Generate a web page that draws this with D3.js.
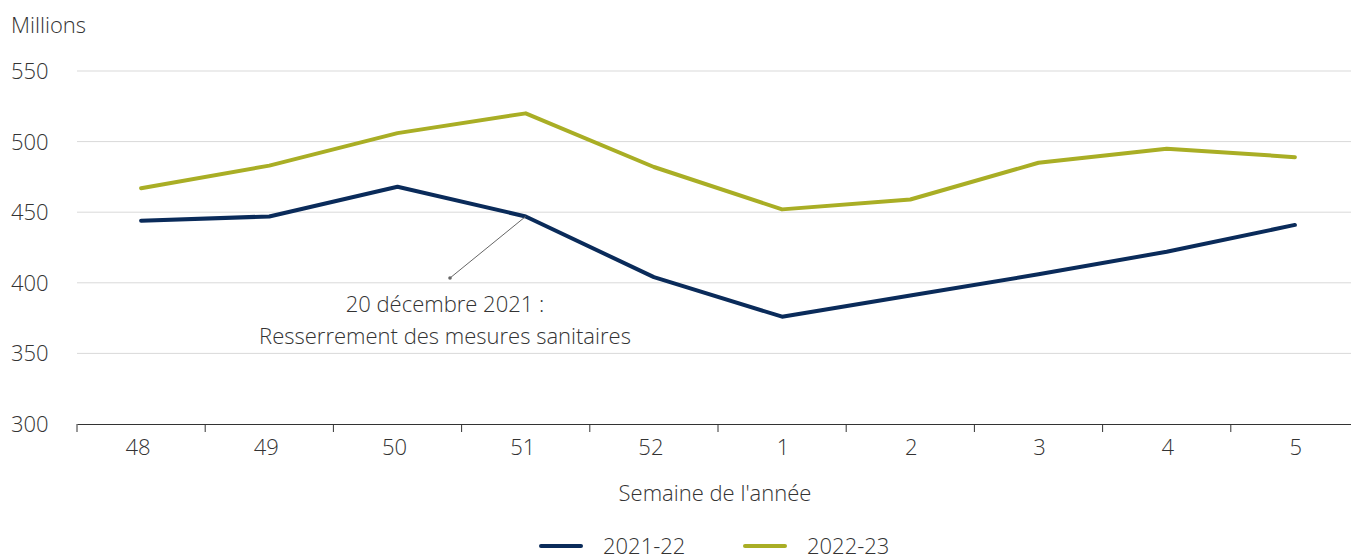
<!DOCTYPE html>
<html>
<head>
<meta charset="utf-8">
<script src="https://cdn.jsdelivr.net/npm/d3@7"></script>
<style>
  body { margin: 0; background: #fff; }
  svg text { font-family: "Open Sans", sans-serif; font-weight: 300; fill: #333; }
</style>
</head>
<body>
<svg width="1351" height="556"></svg>
<script>
// weeks and weekly values (millions)
const weeks = ["48", "49", "50", "51", "52", "1", "2", "3", "4", "5"];
const series2122 = [444, 447, 468, 447, 404, 376, 391, 406, 422, 441];
const series2223 = [467, 483, 506, 520, 482, 452, 459, 485, 495, 489];
const yTicks = [300, 350, 400, 450, 500, 550];

const series = [
  { name: "2021-22", values: series2122, color: "#0a2b5a" },
  { name: "2022-23", values: series2223, color: "#a9ae25" },
];

const svg = d3.select("svg");

const x = d3.scaleBand().domain(weeks).range([77, 1359]);
const y = d3.scaleLinear().domain([300, 550]).range([424, 71]);

// gridlines
svg.selectAll("line.grid")
  .data(yTicks.slice(1))
  .enter()
  .append("line")
  .attr("class", "grid")
  .attr("x1", 77)
  .attr("x2", 1351)
  .attr("y1", (d) => y(d))
  .attr("y2", (d) => y(d))
  .attr("stroke", "#d9d9d9")
  .attr("stroke-width", 1);

// y labels
svg.selectAll("text.ylab")
  .data(yTicks)
  .enter()
  .append("text")
  .attr("class", "ylab")
  .attr("x", 11)
  .attr("y", (d) => y(d) + 8)
  .attr("font-size", "22px")
  .text((d) => d);

svg.append("text")
  .attr("x", 11)
  .attr("y", 33)
  .attr("font-size", "22px")
  .text("Millions");

// x axis
const xAxis = svg.append("g")
  .attr("transform", "translate(0,424)")
  .call(d3.axisBottom(x).tickSize(0).tickPadding(15));
xAxis.select(".domain").attr("stroke", "#333").attr("stroke-width", 1.2);
xAxis.selectAll("text").attr("font-size", "22px").attr("fill", "#333")
  .attr("dx", (d) => (d.length > 1 ? -3 : 1));

const bounds = weeks.map((w) => x(w)).concat([x.range()[1]]);
svg.selectAll("line.xtick")
  .data(bounds)
  .enter()
  .append("line")
  .attr("class", "xtick")
  .attr("x1", (d) => d)
  .attr("x2", (d) => d)
  .attr("y1", 424)
  .attr("y2", 432)
  .attr("stroke", "#333");

svg.append("text")
  .attr("x", 715)
  .attr("y", 501)
  .attr("text-anchor", "middle")
  .attr("font-size", "22px")
  .text("Semaine de l'année");

// lines
const line = d3.line()
  .x((d, i) => x(weeks[i]) + x.bandwidth() / 2)
  .y((d) => y(d));

svg.selectAll("path.series")
  .data(series)
  .enter()
  .append("path")
  .attr("class", "series")
  .attr("d", (d) => line(d.values))
  .attr("fill", "none")
  .attr("stroke", (d) => d.color)
  .attr("stroke-width", 4)
  .attr("stroke-linecap", "round")
  .attr("stroke-linejoin", "round");

// annotation
const ax = x("51") + x.bandwidth() / 2;
const ay = y(series2122[3]);
svg.append("line")
  .attr("x1", ax)
  .attr("y1", ay)
  .attr("x2", 450)
  .attr("y2", 278)
  .attr("stroke", "#666")
  .attr("stroke-width", 1);
svg.append("circle").attr("cx", 450).attr("cy", 278).attr("r", 1.8).attr("fill", "#666");

const note = svg.append("text")
  .attr("text-anchor", "middle")
  .attr("font-size", "22px");
note.append("tspan").attr("x", 445).attr("y", 312).text("20 décembre 2021 :");
note.append("tspan").attr("x", 445).attr("y", 344).text("Resserrement des mesures sanitaires");

// legend
const legendX = [541, 745];
const leg = svg.selectAll("g.legend")
  .data(series)
  .enter()
  .append("g")
  .attr("class", "legend")
  .attr("transform", (d, i) => `translate(${legendX[i]},546)`);
leg.append("line")
  .attr("x1", 0)
  .attr("x2", 40)
  .attr("stroke", (d) => d.color)
  .attr("stroke-width", 4)
  .attr("stroke-linecap", "round");
leg.append("text")
  .attr("x", 62)
  .attr("y", 8)
  .attr("font-size", "22px")
  .text((d) => d.name);
</script>
</body>
</html>
